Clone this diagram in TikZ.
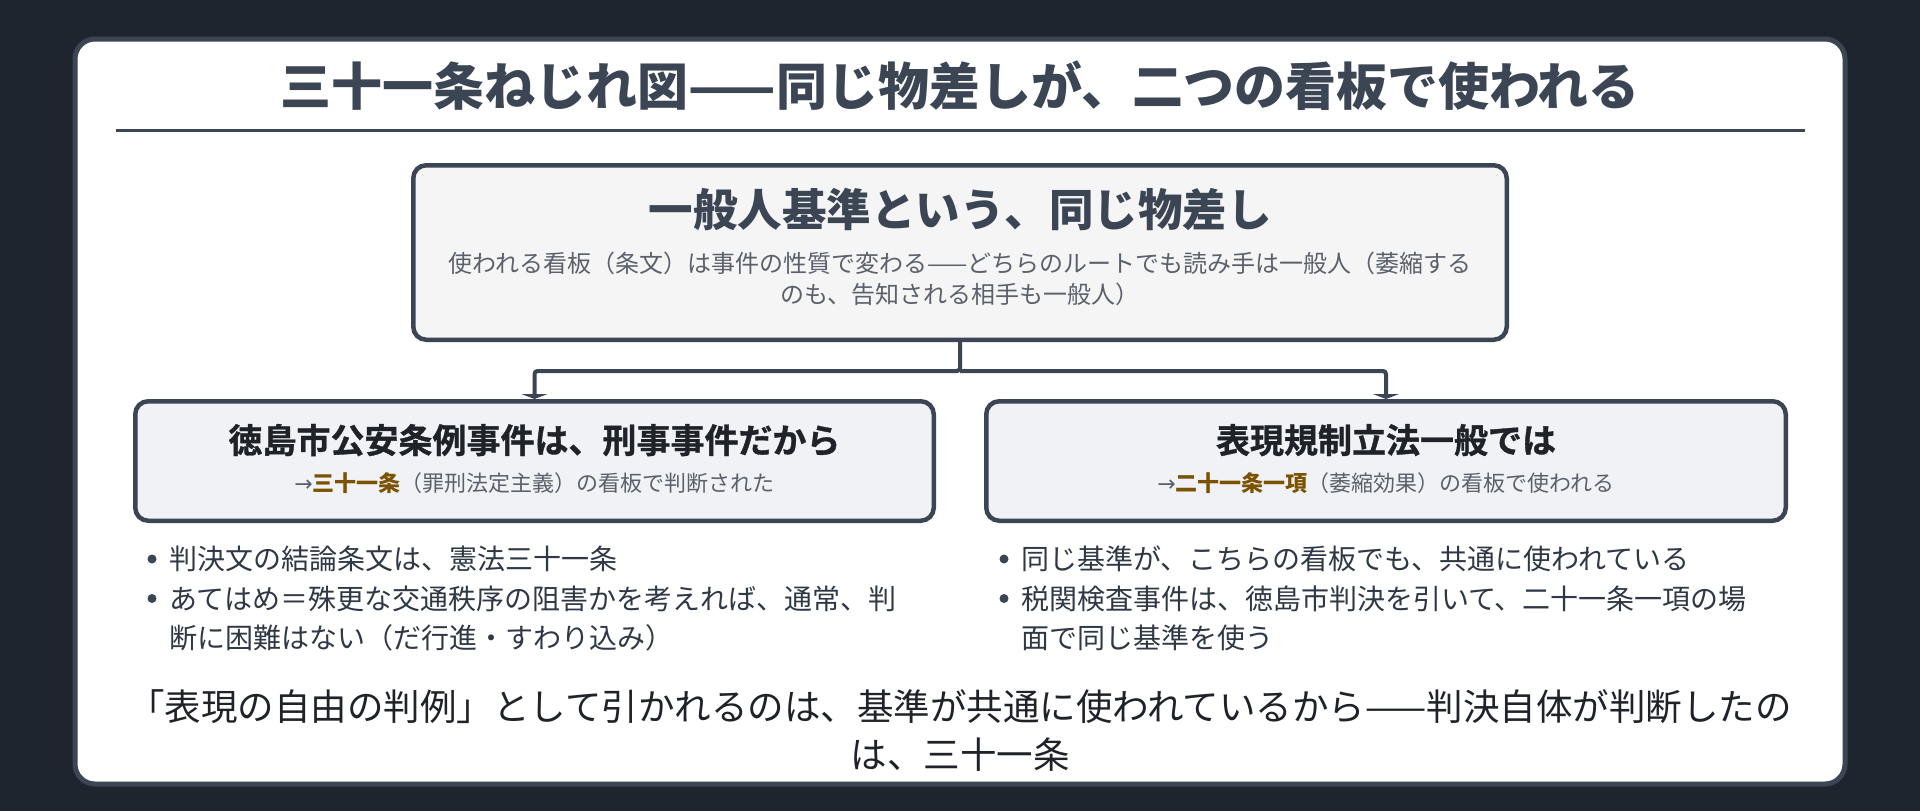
\documentclass[tikz,border=0pt]{standalone}
\usepackage{fontspec}
\setmainfont{Noto Sans CJK JP}
\newfontfamily\arrowfont{DejaVu Sans}
\newfontfamily\heavyfont{Noto Sans CJK JP Bold}[FakeBold=1]
\usetikzlibrary{arrows.meta}

\definecolor{pagebg}{RGB}{30,37,47}
\definecolor{slate}{RGB}{59,69,84}
\definecolor{ink}{RGB}{31,35,41}
\definecolor{greytext}{RGB}{91,97,107}
\definecolor{bullettext}{RGB}{47,56,68}
\definecolor{lawbrown}{RGB}{122,82,0}
\definecolor{topfill}{RGB}{245,245,246}
\definecolor{casefill}{RGB}{240,242,245}

\tikzset{
  panel/.style={draw=slate, line width=4.5pt, rounded corners=13pt, inner sep=0pt},
  link/.style={draw=slate, line width=4pt, rounded corners=3pt, -{Triangle[width=26pt,length=5pt]}},
  headtext/.style={anchor=base, inner sep=0pt, text=ink, font=\fontsize{34}{40}\heavyfont},
  subtext/.style={anchor=base, inner sep=0pt, text=greytext, font=\fontsize{22}{28}\selectfont},
  pointtext/.style={anchor=base west, inner sep=0pt, text=bullettext, font=\fontsize{28}{40}\selectfont},
  pointdot/.style={circle, fill=slate, inner sep=0pt, minimum size=9pt},
}

\begin{document}
\begin{tikzpicture}[x=1pt,y=-1pt]
  \useasboundingbox (0,0) rectangle (1920,811);
  \fill[pagebg] (0,0) rectangle (1920,811);

  % card and title
  \draw[slate, line width=5pt, fill=white, rounded corners=20pt] (75,39) rectangle (1845,784);
  \node[anchor=base, inner sep=0pt, text=slate, font=\fontsize{51}{60}\selectfont\bfseries] (title) at (960,105)
    {三十一条ねじれ図——同じ物差しが、二つの看板で使われる};
  \draw[slate, line width=3pt] (116,130) -- (1805,130);

  % common standard
  \node[panel, fill=topfill, minimum width=1093.5pt, minimum height=174.5pt] (std) at (960,252.5) {};
  \node[anchor=base, inner sep=0pt, text=slate, font=\fontsize{44.5}{52}\selectfont\bfseries] (stdhead) at (960,226.5)
    {一般人基準という、同じ物差し};
  \node[anchor=base, inner sep=0pt, text=greytext, font=\fontsize{24}{34}\selectfont] (stdnote1) at (960,272.5)
    {使われる看板（条文）は事件の性質で変わる——どちらのルートでも読み手は一般人（萎縮する};
  \node[anchor=base, inner sep=0pt, text=greytext, font=\fontsize{24}{34}\selectfont] (stdnote2) at (960,303)
    {のも、告知される相手も一般人）};

  % two signboards
  \node[panel, fill=casefill, minimum width=798.5pt, minimum height=119.5pt] (crim) at (534.5,461) {};
  \node[panel, fill=casefill, minimum width=799.5pt, minimum height=119.5pt] (expr) at (1386,461) {};

  \coordinate (fork) at (960,371);
  \draw[link] (std.south) -- (fork) -| (crim.north);
  \draw[link] (fork) -| (expr.north);

  \node[headtext] (crimhead) at (534.5,453) {徳島市公安条例事件は、刑事事件だから};
  \node[subtext] (crimsub) at (534.5,491)
    {{\arrowfont →}\textcolor{lawbrown}{\bfseries 三十一条}（罪刑法定主義）の看板で判断された};
  \node[headtext] (exprhead) at (1386,453) {表現規制立法一般では};
  \node[subtext] (exprsub) at (1386,491)
    {{\arrowfont →}\textcolor{lawbrown}{\bfseries 二十一条一項}（萎縮効果）の看板で使われる};

  % points under each box
  \node[pointdot] (crimdot1) at (152,559) {};
  \node[pointtext] (crimpt1) at (169,569.5) {判決文の結論条文は、憲法三十一条};
  \node[pointdot] (crimdot2) at (152,598.5) {};
  \node[pointtext] (crimpt2) at (169,609) {あてはめ＝殊更な交通秩序の阻害かを考えれば、通常、判};
  \node[pointtext] (crimpt2b) at (169,648) {断に困難はない（だ行進・すわり込み）};

  \node[pointdot] (exprdot1) at (1004,559) {};
  \node[pointtext] (exprpt1) at (1021,569.5) {同じ基準が、こちらの看板でも、共通に使われている};
  \node[pointdot] (exprdot2) at (1004,598.5) {};
  \node[pointtext] (exprpt2) at (1021,609) {税関検査事件は、徳島市判決を引いて、二十一条一項の場};
  \node[pointtext] (exprpt2b) at (1021,648) {面で同じ基準を使う};

  % conclusion
  \node[anchor=base, inner sep=0pt, text=ink, font=\fontsize{36.5}{50}\selectfont] (concl1) at (960,720)
    {「表現の自由の判例」として引かれるのは、基準が共通に使われているから——判決自体が判断したの};
  \node[anchor=base, inner sep=0pt, text=ink, font=\fontsize{36.5}{50}\selectfont] (concl2) at (960,768)
    {は、三十一条};
\end{tikzpicture}
\end{document}
